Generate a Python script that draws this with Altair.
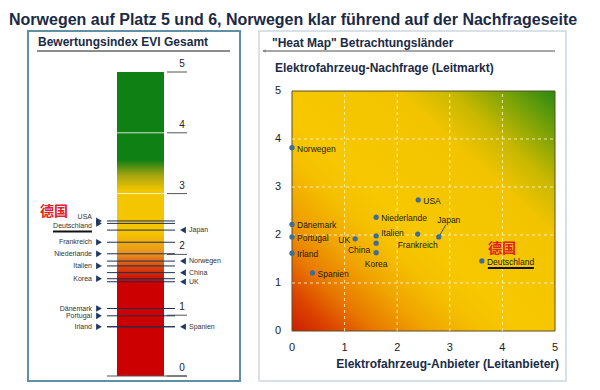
import altair as alt
import pandas as pd

# ---------------- data ----------------
title_line2 = "Norwegen auf Platz 5 und 6, Norwegen klar führend auf der Nachfrageseite"
left_title = "Bewertungsindex EVI Gesamt"
right_title = '"Heat Map" Betrachtungsländer'
y_title = "Elektrofahrzeug-Nachfrage (Leitmarkt)"
x_title = "Elektrofahrzeug-Anbieter (Leitanbieter)"
germany_cn = "德国"

evi_left_names = ["USA", "Deutschland", "Frankreich", "Niederlande", "Italien",
                  "Korea", "Dänemark", "Portugal", "Irland"]
evi_left_values = [2.55, 2.51, 2.20, 2.01, 1.81, 1.60, 1.11, 0.99, 0.81]
evi_right_names = ["Japan", "Norwegen", "China", "UK", "Spanien"]
evi_right_values = [2.40, 1.89, 1.70, 1.55, 0.81]
evi_ticks = [0, 1, 2, 3, 4, 5]

heat_names = ["Norwegen", "USA", "Niederlande", "Dänemark", "Portugal", "Italien",
              "Frankreich", "Japan", "UK", "China", "Korea", "Irland", "Spanien",
              "Deutschland"]
heat_supply = [0.00, 2.40, 1.60, 0.00, 0.00, 1.60, 2.39, 2.79, 1.20, 1.60, 1.60,
               0.00, 0.39, 3.61]
heat_demand = [3.82, 2.73, 2.37, 2.22, 1.96, 1.98, 2.02, 1.96, 1.92, 1.83, 1.63,
               1.62, 1.21, 1.46]
heat_ticks = [0, 1, 2, 3, 4, 5]
heat_grid = [1, 2, 3, 4]

# ---------------- layout / style ----------------
W, H = 584, 374
FONT = "Liberation Sans"
NAVY = "#1b2b45"
EVI_Y = alt.Scale(domain=[0, 5], range=[368, 64])
HX = alt.Scale(domain=[0, 5], range=[284, 547])
HY = alt.Scale(domain=[0, 5], range=[323, 83])

one = pd.DataFrame({"a": [0]})
left_df = pd.DataFrame({"name": evi_left_names, "v": evi_left_values})
right_df = pd.DataFrame({"name": evi_right_names, "v": evi_right_values})
tick_df = pd.DataFrame({"t": evi_ticks, "lab": [str(t) for t in evi_ticks]})
heat_df = pd.DataFrame({"name": heat_names, "x": heat_supply, "y": heat_demand})
htick_df = pd.DataFrame({"t": heat_ticks, "lab": [str(t) for t in heat_ticks]})
grid_df = pd.DataFrame({"g": heat_grid, "lo": [0] * len(heat_grid), "hi": [5] * len(heat_grid)})
span_df = pd.DataFrame({"lo": [0], "hi": [5]})


def text(s, x, y, size, bold=False, align="left", color=NAVY, font=FONT, baseline="alphabetic"):
    return alt.Chart(one).mark_text(
        text=s, align=align, baseline=baseline, font=font, fontSize=size,
        fontWeight="bold" if bold else "normal", color=color
    ).encode(x=alt.value(x), y=alt.value(y))


def box(x1, x2, y1, y2, stroke, sw):
    return alt.Chart(one).mark_rect(fill="white", stroke=stroke, strokeWidth=sw).encode(
        x=alt.value(x1), x2=alt.value(x2), y=alt.value(y1), y2=alt.value(y2))


def hline(x1, x2, y, color, sw):
    return alt.Chart(one).mark_rule(color=color, strokeWidth=sw).encode(
        x=alt.value(x1), x2=alt.value(x2), y=alt.value(y))


bar_grad = {
    "gradient": "linear", "x1": 0, "y1": 1, "x2": 0, "y2": 0,
    "stops": [
        {"offset": 0.0, "color": "#cc0000"},
        {"offset": 0.31, "color": "#cc0000"},
        {"offset": 0.36, "color": "#d84a10"},
        {"offset": 0.40, "color": "#e89020"},
        {"offset": 0.47, "color": "#f5c400"},
        {"offset": 0.61, "color": "#f2c600"},
        {"offset": 0.66, "color": "#a8a410"},
        {"offset": 0.71, "color": "#0f8014"},
        {"offset": 1.0, "color": "#0f8014"},
    ],
}
heat_grad = {
    "gradient": "linear", "x1": 0, "y1": 1, "x2": 1, "y2": 0,
    "stops": [
        {"offset": 0.0, "color": "#cc1c00"},
        {"offset": 0.08, "color": "#dc4400"},
        {"offset": 0.16, "color": "#e87800"},
        {"offset": 0.26, "color": "#f0a400"},
        {"offset": 0.36, "color": "#f5c000"},
        {"offset": 0.45, "color": "#f7c800"},
        {"offset": 0.7, "color": "#f2c400"},
        {"offset": 0.8, "color": "#c8b800"},
        {"offset": 0.9, "color": "#7aa208"},
        {"offset": 1.0, "color": "#2a8a12"},
    ],
}

layers = []

# title
layers.append(text(title_line2, 1, 17, 16, bold=True))

# ---- left panel ----
layers.append(box(20, 232, 23, 373, "#5f90a6", 2))
layers.append(text(left_title, 30, 38, 12, bold=True))
layers.append(hline(29, 222, 43, "#666666", 1.5))

layers.append(alt.Chart(span_df).mark_rect(fill=bar_grad).encode(
    x=alt.value(109), x2=alt.value(156),
    y=alt.Y("lo:Q", scale=EVI_Y, axis=None), y2="hi:Q"))
layers.append(alt.Chart(tick_df[tick_df.t.isin([3, 4])]).mark_rule(color="white", strokeWidth=1, opacity=0.8).encode(
    x=alt.value(109), x2=alt.value(156), y=alt.Y("t:Q", scale=EVI_Y, axis=None)))
layers.append(alt.Chart(tick_df).mark_rule(color="#555555", strokeWidth=1).encode(
    x=alt.value(159), x2=alt.value(179), y=alt.Y("t:Q", scale=EVI_Y, axis=None)))
layers.append(alt.Chart(tick_df[tick_df.t == 0]).mark_rule(color="#555555", strokeWidth=1).encode(
    x=alt.value(99), x2=alt.value(179), y=alt.Y("t:Q", scale=EVI_Y, axis=None)))
layers.append(alt.Chart(tick_df).mark_text(font=FONT, fontSize=10, color="#222222", dy=-8).encode(
    x=alt.value(174), y=alt.Y("t:Q", scale=EVI_Y, axis=None), text="lab:N"))

for df in (left_df, right_df):
    layers.append(alt.Chart(df).mark_rule(color="#1f2f4f", strokeWidth=1).encode(
        x=alt.value(99), x2=alt.value(167), y=alt.Y("v:Q", scale=EVI_Y, axis=None)))

layers.append(alt.Chart(left_df).mark_point(shape="triangle-right", filled=True, size=45,
                                            color="#1f3864", opacity=1).encode(
    x=alt.value(91), y=alt.Y("v:Q", scale=EVI_Y, axis=None)))
layers.append(alt.Chart(right_df).mark_point(shape="triangle-left", filled=True, size=45,
                                             color="#1f3864", opacity=1).encode(
    x=alt.value(175), y=alt.Y("v:Q", scale=EVI_Y, axis=None)))

nudge = {"USA": -4, "Deutschland": 2.5}
for grp_dy, names in ((0, [n for n in evi_left_names if n not in nudge]),
                      (nudge["USA"], ["USA"]), (nudge["Deutschland"], ["Deutschland"])):
    layers.append(alt.Chart(left_df[left_df.name.isin(names)]).mark_text(
        font=FONT, fontSize=7, color="#333333", align="right", baseline="middle", dy=grp_dy).encode(
        x=alt.value(84), y=alt.Y("v:Q", scale=EVI_Y, axis=None), text="name:N"))
layers.append(alt.Chart(right_df).mark_text(
    font=FONT, fontSize=7, color="#333333", align="left", baseline="middle").encode(
    x=alt.value(181), y=alt.Y("v:Q", scale=EVI_Y, axis=None), text="name:N"))

de_left = left_df[left_df.name == "Deutschland"]
layers.append(alt.Chart(de_left).mark_rule(color="#111111", strokeWidth=2, yOffset=8).encode(
    x=alt.value(45), x2=alt.value(84), y=alt.Y("v:Q", scale=EVI_Y, axis=None)))
layers.append(alt.Chart(de_left).mark_text(
    text=germany_cn, font="Noto Sans CJK SC", fontSize=14, fontWeight="bold",
    color="#e0202a", baseline="middle", dy=-11).encode(
    x=alt.value(46), y=alt.Y("v:Q", scale=EVI_Y, axis=None)))

# ---- right panel ----
layers.append(box(251, 558, 23, 373, "#cad8e0", 1.5))
layers.append(text(right_title, 264, 39, 12, bold=True))
layers.append(hline(255, 547, 43, "#8a8a8a", 1.5))
layers.append(alt.Chart(one).mark_point(shape="triangle-left", filled=True, size=14,
                                        color="#8a8a8a", opacity=1).encode(
    x=alt.value(256), y=alt.value(43)))
layers.append(text(y_title, 267, 64, 12, bold=True))

layers.append(alt.Chart(span_df).mark_rect(fill=heat_grad, stroke="#5a4c24", strokeWidth=1).encode(
    x=alt.X("lo:Q", scale=HX, axis=None), x2="hi:Q",
    y=alt.Y("lo:Q", scale=HY, axis=None), y2="hi:Q"))
layers.append(alt.Chart(grid_df).mark_rule(color="#fff6c8", strokeWidth=1, strokeDash=[3, 3], opacity=0.85).encode(
    x=alt.X("g:Q", scale=HX, axis=None), y=alt.Y("lo:Q", scale=HY, axis=None), y2="hi:Q"))
layers.append(alt.Chart(grid_df).mark_rule(color="#fff6c8", strokeWidth=1, strokeDash=[3, 3], opacity=0.85).encode(
    y=alt.Y("g:Q", scale=HY, axis=None), x=alt.X("lo:Q", scale=HX, axis=None), x2="hi:Q"))
layers.append(alt.Chart(htick_df).mark_text(font=FONT, fontSize=11, color="#222222", baseline="middle").encode(
    x=alt.value(270), y=alt.Y("t:Q", scale=HY, axis=None), text="lab:N"))
layers.append(alt.Chart(htick_df).mark_text(font=FONT, fontSize=11, color="#222222", baseline="middle").encode(
    x=alt.X("t:Q", scale=HX, axis=None), y=alt.value(340), text="lab:N"))
layers.append(text(x_title, 551, 360, 12, bold=True, align="right"))

# Japan leader line and Deutschland underline
jp = heat_df[heat_df.name == "Japan"]
de = heat_df[heat_df.name == "Deutschland"]
layers.append(alt.Chart(jp).mark_rule(color="#2a5a70", strokeWidth=1, x2Offset=7, y2Offset=-12).encode(
    x=alt.X("x:Q", scale=HX, axis=None), x2="x:Q",
    y=alt.Y("y:Q", scale=HY, axis=None), y2="y:Q"))

layers.append(alt.Chart(heat_df).mark_circle(size=28, color="#3e6e94", opacity=1).encode(
    x=alt.X("x:Q", scale=HX, axis=None), y=alt.Y("y:Q", scale=HY, axis=None)))

placements = [
    (["Norwegen", "USA", "Niederlande", "Dänemark", "Portugal", "Irland", "Spanien", "Deutschland"],
     "left", 5, 1),
    (["Italien"], "left", 5, -3),
    (["UK"], "right", -5, 1),
    (["China"], "right", -6, 7),
    (["Korea", "Frankreich"], "center", 0, 11),
    (["Japan"], "center", 10, -17),
]
for names, al, dx, dy in placements:
    layers.append(alt.Chart(heat_df[heat_df.name.isin(names)]).mark_text(
        font=FONT, fontSize=8.5, color="#1c1c1c", align=al, baseline="middle", dx=dx, dy=dy).encode(
        x=alt.X("x:Q", scale=HX, axis=None), y=alt.Y("y:Q", scale=HY, axis=None), text="name:N"))

layers.append(alt.Chart(de).mark_rule(color="#111111", strokeWidth=2, xOffset=6, x2Offset=52,
                                      yOffset=7, y2Offset=7).encode(
    x=alt.X("x:Q", scale=HX, axis=None), x2="x:Q",
    y=alt.Y("y:Q", scale=HY, axis=None), y2="y:Q"))
layers.append(alt.Chart(de).mark_text(
    text=germany_cn, font="Noto Sans CJK SC", fontSize=14, fontWeight="bold",
    color="#e0202a", baseline="middle", dx=20, dy=-12).encode(
    x=alt.X("x:Q", scale=HX, axis=None), y=alt.Y("y:Q", scale=HY, axis=None)))

chart = alt.layer(*layers).resolve_scale(x="independent", y="independent").properties(
    width=W, height=H, autosize=alt.AutoSizeParams(type="none"), padding=0,
    background="white"
).configure_view(stroke=None)

chart.save("out.html", embed_options={"renderer": "svg", "actions": False})
